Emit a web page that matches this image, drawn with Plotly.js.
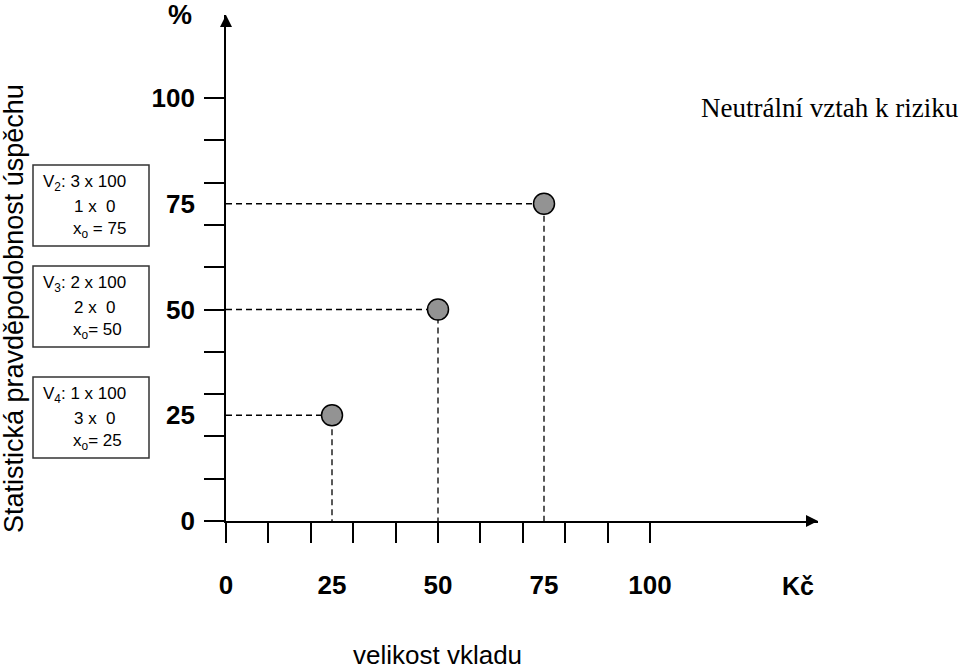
<!DOCTYPE html>
<html>
<head>
<meta charset="utf-8">
<script src="https://cdn.plot.ly/plotly-3.0.1.min.js"></script>
<style>html,body{margin:0;padding:0;background:#fff;}#chart{width:960px;height:671px;}</style>
</head>
<body>
<div id="chart"></div>
<script>
// ---- data ----
const deposit = [25, 50, 75];          // velikost vkladu (Kč)
const probability = [25, 50, 75];      // statistická pravděpodobnost úspěchu (%)
const xTickLabels = [0, 25, 50, 75, 100];
const yTickLabels = [0, 25, 50, 75, 100];
const xTickMarks = [0, 10, 20, 30, 40, 50, 60, 70, 80, 90, 100];
const yTickMarks = [0, 10, 20, 30, 40, 50, 60, 70, 80, 90, 100];
const boxLines = [
  ["V<sub>2</sub>: 3 x 100", "1 x  0", "x<sub>o</sub> = 75"],
  ["V<sub>3</sub>: 2 x 100", "2 x  0", "x<sub>o</sub>= 50"],
  ["V<sub>4</sub>: 1 x 100", "3 x  0", "x<sub>o</sub>= 25"]
];

// ---- layout geometry ----
const W = 960, H = 671;
const L = 226, R = 142, T = 15, B = 150;
const plotW = W - L - R, plotH = H - T - B;
const xMax = plotW / 4.24, yMax = plotH / 4.23;
const px = p => (p - L) / plotW;
const py = p => (H - B - p) / plotH;

const SANS = "Liberation Sans, Arial, sans-serif";
const SERIF = "Liberation Serif, Times New Roman, serif";

// dashed guide lines built from the data
const guides = deposit.map((d, i) => ({
  type: 'scatter', mode: 'lines',
  x: [0, d, d], y: [probability[i], probability[i], 0],
  line: {color: '#000', width: 1.3, dash: '6px,4px'},
  hoverinfo: 'skip', showlegend: false, xaxis: 'x', yaxis: 'y'
}));

const points = {
  type: 'scatter', mode: 'markers',
  x: deposit, y: probability,
  marker: {size: 21, color: '#939393', line: {color: '#000', width: 1.5}},
  showlegend: false, xaxis: 'x2', yaxis: 'y2', cliponaxis: false
};

const annotations = [];
// axis arrows
annotations.push({x: xMax, y: 0, ax: xMax - 3, ay: 0, xref: 'x', yref: 'y', axref: 'x', ayref: 'y',
  showarrow: true, arrowhead: 2, arrowsize: 1.2, arrowwidth: 2, arrowcolor: '#000', text: ''});
annotations.push({x: 0, y: yMax, ax: 0, ay: yMax - 3, xref: 'x', yref: 'y', axref: 'x', ayref: 'y',
  showarrow: true, arrowhead: 2, arrowsize: 1.2, arrowwidth: 2, arrowcolor: '#000', text: ''});

// texts
annotations.push({text: '%', xref: 'paper', yref: 'paper', x: px(180), y: py(15), showarrow: false,
  xanchor: 'center', yanchor: 'middle', font: {family: SANS, size: 27, color: '#000', weight: 'bold'}});
annotations.push({text: 'Kč', xref: 'paper', yref: 'paper', x: px(798), y: py(586), showarrow: false,
  xanchor: 'center', yanchor: 'middle', font: {family: SANS, size: 25, color: '#000', weight: 'bold'}});
annotations.push({text: 'velikost vkladu', xref: 'paper', yref: 'paper', x: px(437), y: py(655), showarrow: false,
  xanchor: 'center', yanchor: 'middle', font: {family: SANS, size: 26, color: '#000'}});
annotations.push({text: 'Neutrální vztah k riziku', xref: 'paper', yref: 'paper', x: px(830), y: py(108), showarrow: false,
  xanchor: 'center', yanchor: 'middle', font: {family: SERIF, size: 27, color: '#000'}});
annotations.push({text: 'Statistická pravděpodobnost úspěchu', xref: 'paper', yref: 'paper', x: px(14), y: py(309),
  showarrow: false, textangle: -90, xanchor: 'center', yanchor: 'middle', font: {family: SANS, size: 27, color: '#000'}});

// boxes
const boxTops = [165, 266, 377];
const shapes = [];
boxTops.forEach((top, b) => {
  shapes.push({type: 'rect', xref: 'paper', yref: 'paper', x0: px(33), x1: px(149), y0: py(top), y1: py(top + 81),
    line: {color: '#333', width: 1.5}, fillcolor: 'rgba(0,0,0,0)'});
  const lineY = [top + 18, top + 41, top + 65];
  const lineX = [41, 72, 71];
  boxLines[b].forEach((t, k) => {
    annotations.push({text: t.replace(/  /g, ' \u00a0'), xref: 'paper', yref: 'paper', x: px(lineX[k]), y: py(lineY[k]),
      showarrow: false, xanchor: 'left', yanchor: 'middle', font: {family: SANS, size: 17, color: '#000'}});
  });
});

const layout = {
  width: W, height: H,
  margin: {l: L, r: R, t: T, b: B, pad: 0},
  paper_bgcolor: '#fff', plot_bgcolor: '#fff',
  showlegend: false,
  xaxis: {range: [0, xMax], showgrid: false, zeroline: false, showline: true, linecolor: '#000', linewidth: 2,
    tickmode: 'array', tickvals: xTickMarks, showticklabels: false, ticks: 'outside', ticklen: 20, tickwidth: 2, tickcolor: '#000',
    fixedrange: true},
  yaxis: {range: [0, yMax], showgrid: false, zeroline: false, showline: true, linecolor: '#000', linewidth: 2,
    tickmode: 'array', tickvals: yTickMarks, showticklabels: false, ticks: 'outside', ticklen: 20, tickwidth: 2, tickcolor: '#000',
    fixedrange: true},
  xaxis2: {range: [0, xMax], overlaying: 'x', side: 'bottom', showgrid: false, zeroline: false, showline: false,
    tickmode: 'array', tickvals: xTickLabels, ticktext: xTickLabels.map(String), ticks: '', ticklabelstandoff: 46,
    tickfont: {family: SANS, size: 26, color: '#000', weight: 'bold'}, fixedrange: true},
  yaxis2: {range: [0, yMax], overlaying: 'y', side: 'left', showgrid: false, zeroline: false, showline: false,
    tickmode: 'array', tickvals: yTickLabels, ticktext: yTickLabels.map(String), ticks: '', ticklabelstandoff: 30,
    tickfont: {family: SANS, size: 26, color: '#000', weight: 'bold'}, fixedrange: true},
  annotations: annotations,
  shapes: shapes
};

Plotly.newPlot('chart', guides.concat([points]), layout, {displayModeBar: false, staticPlot: true});
</script>
</body>
</html>
